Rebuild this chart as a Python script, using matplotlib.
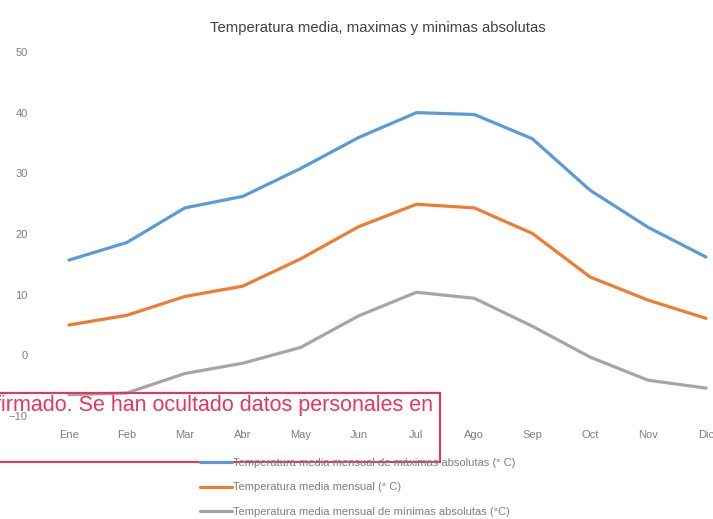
import matplotlib
matplotlib.use("Agg")
import matplotlib.pyplot as plt
from matplotlib.patches import Rectangle

plt.rcParams['font.family'] = ['Liberation Sans', 'DejaVu Sans']

meses = ['Ene', 'Feb', 'Mar', 'Abr', 'May', 'Jun', 'Jul', 'Ago', 'Sep', 'Oct', 'Nov', 'Dic']
t_max = [15.7, 18.6, 24.3, 26.2, 30.8, 35.9, 40.0, 39.7, 35.7, 27.2, 21.1, 16.2]
t_med = [5.0, 6.6, 9.7, 11.4, 15.9, 21.2, 24.9, 24.3, 20.1, 12.9, 9.1, 6.1]
t_min = [-6.5, -6.2, -3.0, -1.3, 1.3, 6.5, 10.4, 9.4, 4.8, -0.3, -4.1, -5.4]

nombres = ['Temperatura media mensual de máximas absolutas (° C)',
           'Temperatura media mensual (° C)',
           'Temperatura media mensual de mínimas absolutas (°C)']
colores = ['#5b9bd5', '#ed7d31', '#a5a5a5']

fig = plt.figure(figsize=(7.13, 5.19), dpi=100)
ax = fig.add_axes([40/713, 1 - 416/519, 673/713, (416 - 52)/519])

x = list(range(len(meses)))
lineas = []
for serie, nombre, c in zip([t_max, t_med, t_min], nombres, colores):
    l, = ax.plot(x, serie, color=c, lw=2.3, label=nombre, solid_capstyle='round')
    lineas.append(l)

ax.set_xlim(-0.5, 11.12)
ax.set_ylim(-10, 50)
ax.set_yticks(range(-10, 51, 10))
ax.set_xticks(x)
ax.set_xticklabels(meses)
for s in ax.spines.values():
    s.set_visible(False)
ax.tick_params(length=0, colors='#7f7f7f', labelsize=8)
ax.tick_params(axis='x', pad=10)
ax.tick_params(axis='y', pad=9)

fig.text(378/713, 1 - 28/519, 'Temperatura media, maximas y minimas absolutas',
         ha='center', va='center', fontsize=10.7, color='#404040')

fig.legend(handles=lineas, loc='upper left', bbox_to_anchor=(190/713, 1 - 448/519),
           frameon=False, fontsize=8, handlelength=2.9, handletextpad=0.05,
           labelspacing=1.3, labelcolor='#7f7f7f')

# recuadro rojo de aviso superpuesto
fig.patches.append(Rectangle((-2/713, 1 - 462/519), 442/713, 69/519,
                             transform=fig.transFigure, fill=False,
                             edgecolor='#e8365a', lw=1.5))
fig.text(-5/713, 1 - 406/519, 'firmado. Se han ocultado datos personales en',
         ha='left', va='center', fontsize=15.5, color='#e8365a')

fig.savefig('out.png', dpi=100)
